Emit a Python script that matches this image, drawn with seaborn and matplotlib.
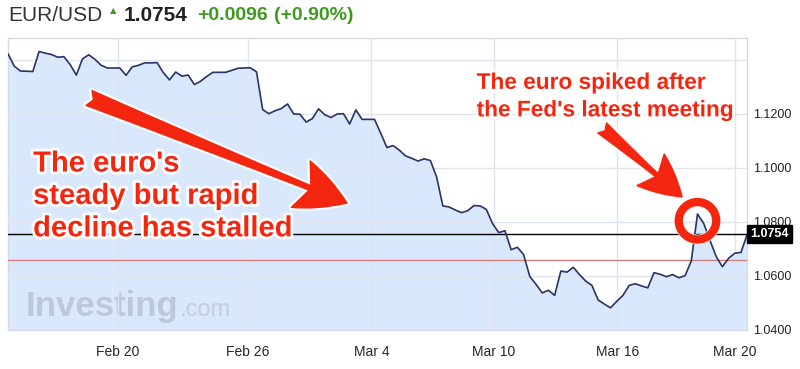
import numpy as np
import pandas as pd
import seaborn as sns
import matplotlib.pyplot as plt
import matplotlib.patheffects as pe

# EUR/USD, evenly spaced quotes from Feb 17 to Mar 20
rate = [
    1.1422, 1.1376, 1.1358, 1.1357, 1.1356, 1.1430, 1.1424, 1.1419, 1.1409, 1.1411,
    1.1382, 1.1343, 1.1403, 1.1418, 1.1401, 1.1379, 1.1369, 1.1369, 1.1369, 1.1342,
    1.1373, 1.1379, 1.1388, 1.1388, 1.1389, 1.1352, 1.1325, 1.1354, 1.1339, 1.1343,
    1.1308, 1.1320, 1.1338, 1.1353, 1.1353, 1.1353, 1.1360, 1.1368, 1.1369, 1.1370,
    1.1355, 1.1215, 1.1200, 1.1211, 1.1219, 1.1236, 1.1199, 1.1198, 1.1169, 1.1182,
    1.1218, 1.1196, 1.1186, 1.1199, 1.1200, 1.1162, 1.1214, 1.1179, 1.1179, 1.1179,
    1.1128, 1.1075, 1.1082, 1.1065, 1.1044, 1.1035, 1.1025, 1.1033, 1.1027, 1.0966,
    1.0859, 1.0855, 1.0844, 1.0834, 1.0841, 1.0860, 1.0859, 1.0846, 1.0794, 1.0760,
    1.0767, 1.0697, 1.0706, 1.0679, 1.0598, 1.0569, 1.0537, 1.0547, 1.0528, 1.0618,
    1.0614, 1.0632, 1.0605, 1.0581, 1.0565, 1.0511, 1.0496, 1.0482, 1.0506, 1.0528,
    1.0565, 1.0571, 1.0563, 1.0556, 1.0612, 1.0606, 1.0597, 1.0605, 1.0593, 1.0601,
    1.0655, 1.0829, 1.0794, 1.0732, 1.0672, 1.0634, 1.0665, 1.0684, 1.0687, 1.0754,
]
date_ticks = [17.7, 38.6, 58.5, 78.2, 98.1, 117]
date_labels = ['Feb 20', 'Feb 26', 'Mar 4', 'Mar 10', 'Mar 16', 'Mar 20']
price_ticks = [1.04, 1.06, 1.08, 1.10, 1.12, 1.14]
price_labels = ['1.0400', '1.0600', '1.0800', '1.1000', '1.1200', '']
last_price = 1.0754
prev_close = 1.0658
peak_idx = 111

df = pd.DataFrame({'t': np.arange(len(rate)), 'rate': rate})

sns.set_style('white')
plt.rcParams['font.family'] = ['Liberation Sans', 'DejaVu Sans']

red = '#f5260f'
green = '#3d9a1f'

fig = plt.figure(figsize=(8, 3.69), dpi=100)
ax = fig.add_axes([0.01, 0.1057, 0.924, 0.7913])

ax.fill_between(df['t'], df['rate'], 1.0, color='#d9e8fc', zorder=1)
sns.lineplot(data=df, x='t', y='rate', ax=ax, color='#2b3467', linewidth=1.2, zorder=4)

ax.axhline(prev_close, color='#d47f7f', linewidth=1, zorder=3)
ax.axhline(last_price, color='black', linewidth=1, zorder=3)

ax.set_xlim(0, len(rate) - 1)
ax.set_ylim(1.0400, 1.148)
ax.set_xticks(date_ticks)
ax.set_xticklabels(date_labels, fontsize=10)
ax.set_yticks(price_ticks)
ax.set_yticklabels(price_labels, fontsize=9, color='#222222')
ax.yaxis.tick_right()
ax.tick_params(axis='x', length=0, pad=11)
ax.tick_params(axis='y', length=0, pad=4)
ax.set_xlabel('')
ax.set_ylabel('')
ax.set_axisbelow(False)
ax.grid(True, color='#dfe4ee', linewidth=1, zorder=2)
for s in ax.spines.values():
    s.set_color('#d5dae4')
    s.set_linewidth(1)

# last price box on the right axis
ax.text(1.004, last_price, '1.0754', transform=ax.get_yaxis_transform(),
        ha='left', va='center', fontsize=9, fontweight='bold', color='white',
        bbox=dict(boxstyle='square,pad=0.25', fc='black', ec='black'), zorder=6)

# watermark
ax.text(0.024, 0.048, 'Investing', transform=ax.transAxes, fontsize=25,
        fontweight='bold', color='#bdc9da', ha='left', va='baseline', zorder=2)
ax.text(0.233, 0.048, '.com', transform=ax.transAxes, fontsize=17,
        color='#c3cedc', ha='left', va='baseline', zorder=2)

# header
fig.text(0.010, 0.959, 'EUR/USD', fontsize=15, color='#333333', va='center')
fig.text(0.137, 0.972, '▲', fontsize=6, color=green, va='center',
         family=['DejaVu Sans'])
fig.text(0.155, 0.959, '1.0754', fontsize=15, fontweight='bold', color='#222222', va='center')
fig.text(0.247, 0.959, '+0.0096', fontsize=14, fontweight='bold', color=green, va='center')
fig.text(0.343, 0.959, '(+0.90%)', fontsize=14, fontweight='bold', color=green, va='center')

# annotations
outline = [pe.SimplePatchShadow(offset=(1.5, -1.5), shadow_rgbFace='#777777', alpha=0.45),
           pe.Stroke(linewidth=4, foreground='white'), pe.Normal()]

ax.text(0.034, 0.459, "The euro's\nsteady but rapid\ndecline has stalled",
        transform=ax.transAxes, fontsize=21, fontweight='bold', color=red,
        ha='left', va='center', linespacing=1.2, path_effects=outline, zorder=7)
ax.text(0.634, 0.801, "The euro spiked after\nthe Fed's latest meeting",
        transform=ax.transAxes, fontsize=16.3, fontweight='bold', color=red,
        ha='left', va='center', linespacing=1.25, path_effects=outline, zorder=7)

ax.annotate('', xy=(0.4587, 0.4349), xytext=(0.1096, 0.7945), xycoords='axes fraction',
            arrowprops=dict(arrowstyle='fancy,head_length=1.0,head_width=1.0,tail_width=0.32',
                            color=red, mutation_scale=36, shrinkA=0, shrinkB=0,
                            path_effects=outline), zorder=7)
ax.annotate('', xy=(0.912, 0.4555), xytext=(0.8038, 0.6918), xycoords='axes fraction',
            arrowprops=dict(arrowstyle='fancy,head_length=1.0,head_width=1.0,tail_width=0.32',
                            color=red, mutation_scale=30, shrinkA=0, shrinkB=0,
                            path_effects=outline), zorder=7)

# ring around the spike
ring = [pe.Stroke(linewidth=7, foreground='white'), pe.Normal()]
ax.plot(peak_idx, rate[peak_idx] - 0.0025, marker='o', markersize=27, markerfacecolor='none',
        markeredgecolor=red, markeredgewidth=6, zorder=8, path_effects=ring)

fig.savefig('out.png', dpi=100)
